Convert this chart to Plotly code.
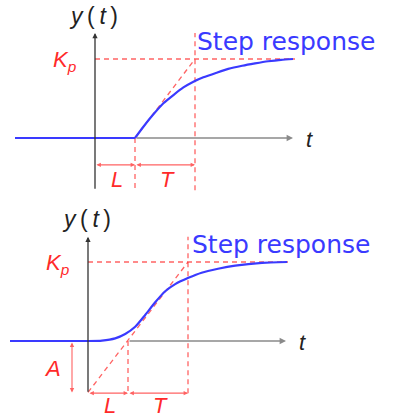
import plotly.graph_objects as go
from plotly.subplots import make_subplots

# parameters of the two step-response sketches
L = 1.0
T = 1.5
Kp = 1.0
A = 0.65

# first-order-plus-dead-time response (top)
top_t = [1.0, 1.21, 1.46, 1.71, 1.96, 2.21, 2.46, 2.71, 3.04, 3.33, 3.68, 4.0, 4.33, 4.65, 4.95]
top_y = [0.0, 0.143, 0.30, 0.44, 0.544, 0.64, 0.713, 0.769, 0.827, 0.875, 0.915, 0.945, 0.972, 0.99, 1.0]

# s-shaped response (bottom)
bot_t = [-1.95, 0.0, 0.35, 0.68, 0.93, 1.18, 1.43, 1.68, 1.93, 2.18, 2.51, 2.84,
         3.25, 3.68, 4.35, 4.98]
bot_y = [0.0, 0.0, 0.006, 0.034, 0.089, 0.18, 0.33, 0.49, 0.63, 0.72, 0.80, 0.865,
         0.915, 0.955, 0.99, 1.0]

W, H = 393, 419
RED = "rgba(255,60,60,0.8)"
TXT_RED = "#ff2a2a"
BLUE = "#3a3aff"

fig = make_subplots(rows=2, cols=1, vertical_spacing=0)
fig.update_layout(
    width=W, height=H, margin=dict(l=0, r=0, t=0, b=0),
    paper_bgcolor="white", plot_bgcolor="white", showlegend=False,
    font=dict(family="Liberation Sans, Arial, sans-serif"),
)
fig.update_layout(
    yaxis=dict(domain=[1 - 200 / H, 1], range=[-0.785, 1.747]),
    xaxis=dict(range=[-2.375, 7.45]),
    yaxis2=dict(domain=[0, 219 / H], range=[-0.987, 1.785]),
    xaxis2=dict(range=[-2.2, 7.625]),
)
fig.update_xaxes(visible=False, fixedrange=True)
fig.update_yaxes(visible=False, fixedrange=True)


def dashed(x0, y0, x1, y1, xr, yr):
    fig.add_shape(type="line", x0=x0, y0=y0, x1=x1, y1=y1, xref=xr, yref=yr,
                  layer="below", line=dict(color=RED, width=1.3, dash="5px,4px"))


def arrow(x0, y0, x1, y1, xr, yr, color, both=False, width=1.3):
    fig.add_annotation(x=x1, y=y1, ax=x0, ay=y0, xref=xr, yref=yr, axref=xr, ayref=yr,
                       text="", showarrow=True, arrowhead=2, arrowsize=0.8,
                       arrowwidth=width, arrowcolor=color,
                       arrowside="end+start" if both else "end")


def label(x, y, text, xr, yr, color, size, xanchor="center", family=None):
    font = dict(color=color, size=size)
    if family:
        font["family"] = family
    fig.add_annotation(x=x, y=y, xref=xr, yref=yr, text=text, showarrow=False,
                       xanchor=xanchor, font=font)


def panel(row, t, y, ybot, ytop, bottom_arrow_y, lab_y, flat_start, s_shape, step_x):
    xr = "x" if row == 1 else "x2"
    yr = "y" if row == 1 else "y2"
    # axes (time axis starts where the blue curve leaves it, so the curve stays on top)
    arrow(L, 0, 4.95, 0, xr, yr, "#8a8a8a", width=1.6)
    arrow(0, ybot, 0, ytop, xr, yr, "#333333", width=1.3)
    # dashed construction lines
    dashed(0, Kp, 5.0, Kp, xr, yr)
    dashed(L + T, ybot, L + T, ytop, xr, yr)
    dashed(L, 0, L, ybot, xr, yr)
    if s_shape:
        dashed(0, -A, L + T, Kp, xr, yr)
    else:
        dashed(L, 0, L + T, Kp, xr, yr)
    # response curve
    if not s_shape:
        fig.add_trace(go.Scatter(x=[flat_start, L], y=[0, 0], mode="lines",
                                 line=dict(color=BLUE, width=2.2)), row=row, col=1)
    fig.add_trace(go.Scatter(x=t, y=y, mode="lines",
                             line=dict(color=BLUE, width=2.2, shape="spline", smoothing=0.6)),
                  row=row, col=1)
    # L / T dimension arrows
    arrow(0, bottom_arrow_y, L, bottom_arrow_y, xr, yr, RED, both=True, width=1.1)
    arrow(L, bottom_arrow_y, L + T, bottom_arrow_y, xr, yr, RED, both=True, width=1.1)
    label(L / 2 + 0.05, lab_y, "<i>L</i>", xr, yr, TXT_RED, 22)
    label(L + T / 2 + 0.05, lab_y, "<i>T</i>", xr, yr, TXT_RED, 22)
    if s_shape:
        arrow(-0.4, 0, -0.4, -A, xr, yr, RED, both=True, width=1.1)
        label(-0.9, -A / 2 - 0.02, "<i>A</i>", xr, yr, TXT_RED, 22)
    # texts
    label(-0.75, Kp - 0.03, "<i>K<sub>p</sub></i>", xr, yr, TXT_RED, 22)
    label(-0.05, ytop + 0.22, "<i>y</i>\u2009(\u2009<i>t</i>\u2009)", xr, yr, "#222222", 23)
    label(5.35, -0.02, "<i>t</i>", xr, yr, "#222222", 22)
    label(step_x, Kp + 0.22, "Step response", xr, yr, BLUE, 25, xanchor="left",
          family="DejaVu Sans, sans-serif")


panel(1, top_t, top_y, -0.66, 1.33, -0.34, -0.53, -2.0, False, 2.5)
panel(2, bot_t, bot_y, -0.66, 1.32, -0.66, -0.82, -1.95, True, 2.55)

fig.write_html("out.html", config={"displayModeBar": False},
               post_script="document.body.style.margin='0';")
